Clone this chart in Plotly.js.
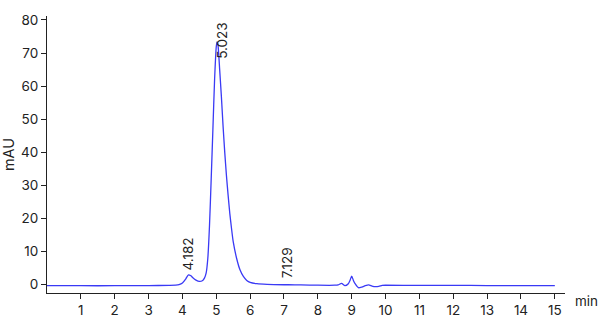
<!DOCTYPE html>
<html>
<head>
<meta charset="utf-8">
<script src="https://cdn.plot.ly/plotly-3.0.1.min.js"></script>
<style>html,body{margin:0;padding:0;background:#fff;}#chart{width:600px;height:330px;}</style>
</head>
<body>
<div id="chart"></div>
<script>
// Retention time (min) and signal (mAU)
const timeMin = [0, 1, 2, 3, 3.6, 3.8, 3.9, 4.0, 4.1, 4.18, 4.25, 4.3, 4.4, 4.5, 4.6, 4.65, 4.7, 4.75, 4.8, 4.85, 4.9, 4.95, 5.0, 5.023, 5.05, 5.1, 5.15, 5.2, 5.25, 5.3, 5.35, 5.4, 5.45, 5.5, 5.6, 5.7, 5.8, 5.9, 6.0, 6.2, 6.5, 7.0, 7.129, 7.5, 8.0, 8.5, 8.6, 8.7, 8.8, 8.9, 8.95, 9.0, 9.05, 9.1, 9.2, 9.3, 9.4, 9.5, 9.6, 9.7, 9.8, 9.9, 10.0, 11, 12, 13, 14, 15];
const signal  = [-0.3, -0.3, -0.3, -0.25, -0.2, -0.15, 0.0, 0.5, 1.8, 3.0, 2.7, 2.2, 1.4, 1.0, 1.3, 2.0, 3.5, 8, 18, 32, 47, 62, 72, 73.4, 72.5, 65, 57, 48, 40, 33, 27, 21.5, 17, 13, 8, 4.5, 2.5, 1.3, 0.7, 0.3, 0.1, 0.0, 0.0, -0.05, -0.15, -0.15, -0.05, 0.4, -0.3, 0.3, 1.3, 2.6, 1.3, 0.3, -0.9, -0.7, -0.3, -0.05, -0.4, -0.6, -0.5, -0.2, -0.15, -0.2, -0.2, -0.25, -0.25, -0.3];
const xTicks = [1,2,3,4,5,6,7,8,9,10,11,12,13,14,15];
const yTicks = [0,10,20,30,40,50,60,70,80];
const peakLabels = ['4.182', '5.023', '7.129'];
const labelX = [4.17, 5.17, 7.09];
const labelY = [9.2, 73.7, 6.5];

const font = 'Inter, "Noto Sans", sans-serif';
const trace = {
  x: timeMin, y: signal, type: 'scatter', mode: 'lines',
  line: {color: '#3a3af5', width: 1.3, shape: 'spline', smoothing: 0.6},
  hoverinfo: 'skip'
};
const annotations = peakLabels.map((t, i) => ({
  x: labelX[i], y: labelY[i], xref: 'x', yref: 'y', text: t, showarrow: false,
  textangle: -90, xanchor: 'center', yanchor: 'middle',
  font: {family: font, size: 13.5, color: '#222'}
}));
annotations.push({
  x: 1, y: 0, xref: 'paper', yref: 'paper', text: 'min', showarrow: false,
  xanchor: 'left', yanchor: 'top', xshift: 8, yshift: 2,
  font: {family: font, size: 13.5, color: '#222'}
});
const layout = {
  width: 600, height: 330,
  margin: {l: 47, r: 35, t: 16, b: 37},
  paper_bgcolor: '#fff', plot_bgcolor: '#fff',
  showlegend: false,
  font: {family: font, size: 13.5, color: '#222'},
  xaxis: {
    range: [0, 15.3], tickvals: xTicks, ticktext: xTicks.map(String),
    showgrid: false, zeroline: false, showline: true, linecolor: '#222', linewidth: 1,
    ticks: 'outside', ticklen: 5, tickcolor: '#222', tickfont: {family: font, size: 13.5, color: '#222'}
  },
  yaxis: {
    range: [-2.5, 81.2], tickvals: yTicks, ticktext: yTicks.map(String),
    showgrid: false, zeroline: false, showline: true, linecolor: '#222', linewidth: 1,
    ticks: 'outside', ticklen: 5, tickcolor: '#222', tickfont: {family: font, size: 13.5, color: '#222'},
    title: {text: 'mAU', font: {family: font, size: 14.5, color: '#222'}, standoff: 6}
  },
  annotations: annotations
};
Plotly.newPlot('chart', [trace], layout, {staticPlot: true, displayModeBar: false});
</script>
</body>
</html>
